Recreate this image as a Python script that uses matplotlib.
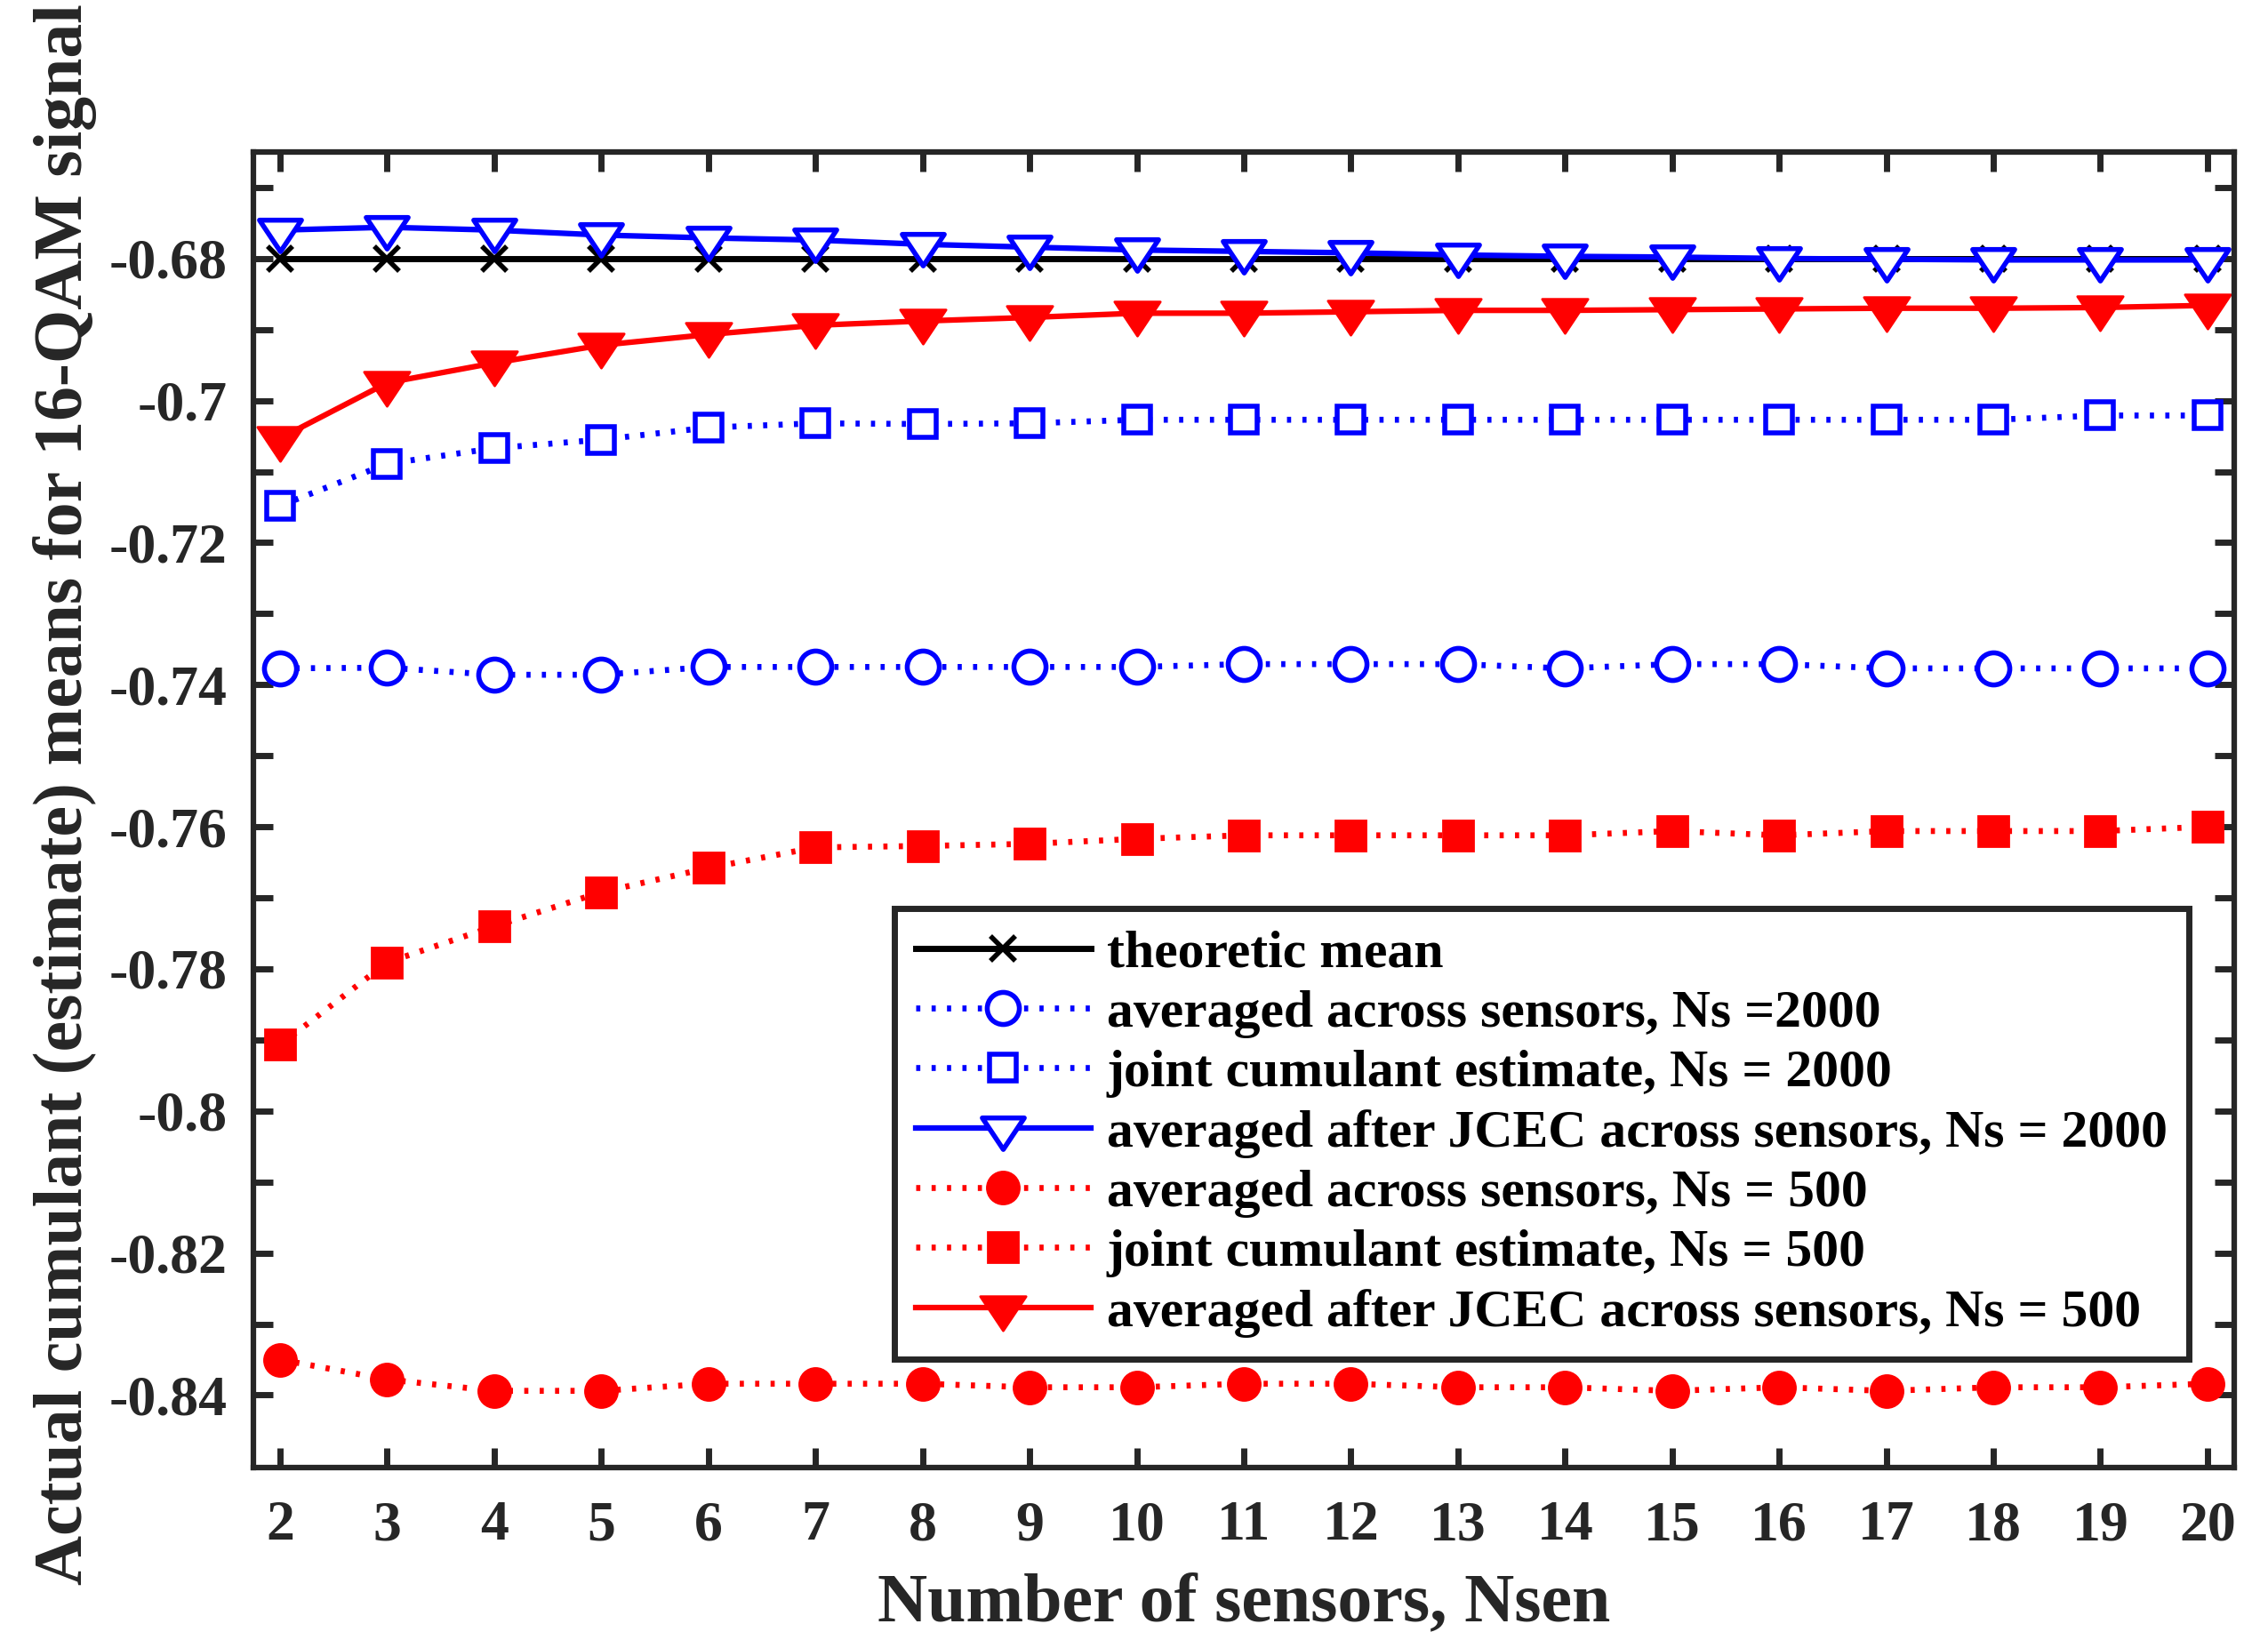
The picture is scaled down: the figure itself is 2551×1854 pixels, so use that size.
import numpy as np
import matplotlib
matplotlib.use("Agg")
from matplotlib import pyplot as plt
from matplotlib.path import Path
from matplotlib.markers import MarkerStyle

plt.rcParams['font.family'] = ['Liberation Serif', 'DejaVu Serif']
plt.rcParams['font.weight'] = 'bold'

n_sensors = [2, 3, 4, 5, 6, 7, 8, 9, 10, 11, 12, 13, 14, 15, 16, 17, 18, 19, 20]

theoretic = [-0.68, -0.68, -0.68, -0.68, -0.68, -0.68, -0.68, -0.68, -0.68, -0.68,
             -0.68, -0.68, -0.68, -0.68, -0.68, -0.68, -0.68, -0.68, -0.68]

avg_2000 = [-0.7377, -0.7376, -0.7386, -0.7386, -0.7375, -0.7375, -0.7375, -0.7375, -0.7375, -0.7371,
            -0.7371, -0.7371, -0.7377, -0.7371, -0.7371, -0.7377, -0.7377, -0.7377, -0.7377]
joint_2000 = [-0.7148, -0.7089, -0.7067, -0.7055, -0.7038, -0.7032, -0.7033, -0.7032, -0.7027, -0.7027,
              -0.7027, -0.7027, -0.7027, -0.7027, -0.7027, -0.7027, -0.7027, -0.7021, -0.7021]
jcec_2000 = [-0.6760, -0.6756, -0.6760, -0.6767, -0.6771, -0.6774, -0.6780, -0.6784, -0.6788, -0.6790,
             -0.6792, -0.6795, -0.6797, -0.6798, -0.6800, -0.6801, -0.6802, -0.6802, -0.6802]

avg_500 = [-0.8350, -0.8378, -0.8394, -0.8394, -0.8384, -0.8384, -0.8384, -0.8389, -0.8389, -0.8384,
           -0.8384, -0.8389, -0.8389, -0.8394, -0.8389, -0.8394, -0.8389, -0.8389, -0.8384]
joint_500 = [-0.7907, -0.7791, -0.7740, -0.7692, -0.7658, -0.7629, -0.7627, -0.7624, -0.7617, -0.7612,
             -0.7612, -0.7612, -0.7612, -0.7606, -0.7612, -0.7606, -0.7606, -0.7606, -0.7600]
jcec_500 = [-0.7053, -0.6975, -0.6947, -0.6922, -0.6907, -0.6894, -0.6888, -0.6883, -0.6877, -0.6877,
            -0.6875, -0.6873, -0.6873, -0.6872, -0.6871, -0.6870, -0.6870, -0.6869, -0.6866]

ytick_vals = [-0.84, -0.83, -0.82, -0.81, -0.80, -0.79, -0.78, -0.77, -0.76, -0.75,
              -0.74, -0.73, -0.72, -0.71, -0.70, -0.69, -0.68, -0.67]
ytick_labels = ["-0.84", "", "-0.82", "", "-0.8", "", "-0.78", "", "-0.76", "",
                "-0.74", "", "-0.72", "", "-0.7", "", "-0.68", ""]

legend_labels = ["theoretic mean",
                 "averaged across sensors, Ns =2000",
                 "joint cumulant estimate, Ns = 2000",
                 "averaged after JCEC across sensors, Ns = 2000",
                 "averaged across sensors, Ns = 500",
                 "joint cumulant estimate, Ns = 500",
                 "averaged after JCEC across sensors, Ns = 500"]

AX_COL = "#262626"
DOT = (0, (0.7, 1.9))

# matlab-like wide triangle, data point at centroid
tri_path = Path([(-1, 0.5), (1, 0.5), (0, -1), (-1, 0.5)], closed=True)
tri = MarkerStyle(tri_path)

fig = plt.figure(figsize=(25.51, 18.54), dpi=100)
ax = fig.add_axes([0.1117, 0.1095, 0.8734, 0.7983])

ax.plot(n_sensors, theoretic, color="black", lw=5, marker="x", ms=20, mew=4, label=legend_labels[0])
ax.plot(n_sensors, avg_2000, color="blue", lw=4.8, ls=DOT, marker="o", ms=26, mew=4,
        mfc="white", label=legend_labels[1])
ax.plot(n_sensors, joint_2000, color="blue", lw=4.8, ls=DOT, marker="s", ms=22, mew=4,
        mfc="white", label=legend_labels[2])
ax.plot(n_sensors, jcec_2000, color="blue", lw=4.5, marker=tri, ms=34, mew=4,
        mfc="white", label=legend_labels[3])
ax.plot(n_sensors, avg_500, color="red", lw=4.8, ls=DOT, marker="o", ms=26, mew=2,
        mfc="red", label=legend_labels[4])
ax.plot(n_sensors, joint_500, color="red", lw=4.8, ls=DOT, marker="s", ms=25, mew=2,
        mfc="red", label=legend_labels[5])
ax.plot(n_sensors, jcec_500, color="red", lw=4.5, marker=tri, ms=37, mew=2,
        mfc="red", label=legend_labels[6])

ax.set_xlim(1.75, 20.25)
ax.set_ylim(-0.8502, -0.665)
ax.set_xticks(n_sensors)
ax.set_xticklabels([str(v) for v in n_sensors])
ax.set_yticks(ytick_vals)
ax.set_yticklabels(ytick_labels)

ax.tick_params(direction="in", top=True, right=True, length=16, width=5,
               labelsize=46, colors=AX_COL)
ax.tick_params(axis="x", pad=27)
ax.tick_params(axis="y", pad=21)
for sp in ax.spines.values():
    sp.set_linewidth(4.5)
    sp.set_color(AX_COL)

ax.set_xlabel("Number of sensors, Nsen", fontsize=56, fontweight="bold", color=AX_COL)
ax.xaxis.set_label_coords(0.5, -0.0798)
ax.set_ylabel("Actual cumulant (estimate) means for 16-QAM signal", fontsize=56,
              fontweight="bold", color=AX_COL)
ax.yaxis.set_label_coords(-0.079, 0.512)

leg = ax.legend(loc="upper left", bbox_to_anchor=(0.3236, 0.4251), borderaxespad=0,
                handlelength=3.3, handletextpad=0.3, labelspacing=0.21, borderpad=0.4,
                numpoints=1, fancybox=False, framealpha=1,
                prop={"family": "Liberation Serif", "weight": "bold", "size": 43})
leg.get_frame().set_linewidth(5)
leg.get_frame().set_edgecolor(AX_COL)

fig.savefig("out.png", dpi=100)
